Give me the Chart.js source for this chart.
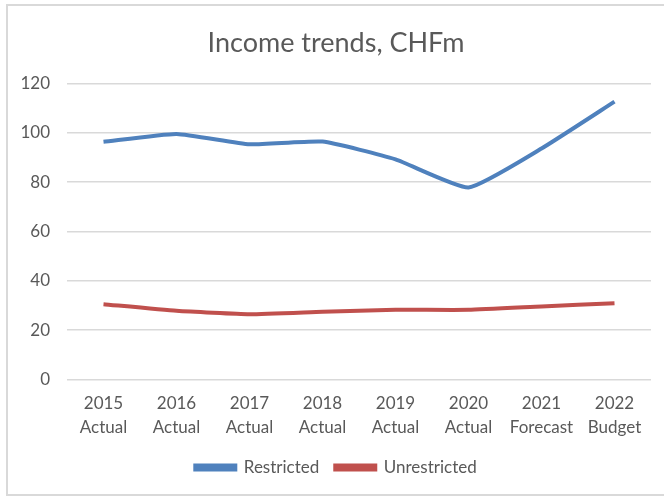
<!DOCTYPE html>
<html lang="en">
<head>
  <meta charset="UTF-8">
  <title>Income trends</title>
  <script src="https://cdn.jsdelivr.net/npm/chart.js@4"></script>
  <style>
    body { margin: 0; background: #fff; overflow: hidden; }
    #box { position: absolute; left: 6px; top: 4px; width: 670px; height: 488px; border: 2px solid #d9d9d9; }
  </style>
</head>
<body>
  <div id="box"><canvas id="chart"></canvas></div>
  <script>
const years = ['2015', '2016', '2017', '2018', '2019', '2020', '2021', '2022'];
const kinds = ['Actual', 'Actual', 'Actual', 'Actual', 'Actual', 'Actual', 'Forecast', 'Budget'];
const restricted = [96.3, 99.5, 95.3, 96.4, 89.2, 77.8, 93.6, 112.6];
const unrestricted = [30.5, 27.8, 26.4, 27.4, 28.2, 28.2, 29.6, 30.9];

const labels = years.map((y, i) => [y, kinds[i]]);
const grey = '#595959';
Chart.defaults.font.family = 'Lato, "Open Sans", sans-serif';

const ctx = document.getElementById('chart').getContext('2d');
new Chart(ctx, {
  type: 'line',
  data: {
    labels: labels,
    datasets: [{
      label: 'Restricted',
      data: restricted,
      borderColor: '#4f81bd',
      backgroundColor: '#4f81bd',
      borderWidth: 4,
      pointRadius: 0,
      tension: 0.15,
      fill: false
    }, {
      label: 'Unrestricted',
      data: unrestricted,
      borderColor: '#c0504d',
      backgroundColor: '#c0504d',
      borderWidth: 4,
      pointRadius: 0,
      tension: 0.15,
      fill: false
    }]
  },
  options: {
    responsive: true,
    maintainAspectRatio: false,
    animation: false,
    layout: { padding: { left: 13, right: 27, top: 8, bottom: 8 } },
    plugins: {
      title: {
        display: true,
        text: 'Income trends, CHFm',
        color: grey,
        font: { size: 27, weight: 'normal' },
        padding: { top: 13, bottom: 24 }
      },
      legend: {
        position: 'bottom',
        labels: {
          color: grey,
          font: { size: 17 },
          boxWidth: 40,
          boxHeight: 4,
          padding: 16
        }
      },
      tooltip: { enabled: false }
    },
    scales: {
      x: {
        offset: true,
        grid: { display: false },
        border: { display: false },
        ticks: { color: grey, font: { size: 17, lineHeight: 1.4 }, maxRotation: 0, padding: 4 }
      },
      y: {
        min: 0,
        max: 120,
        afterFit: axis => { axis.width = 46; },
        ticks: { stepSize: 20, color: grey, font: { size: 17 }, padding: 17 },
        grid: { color: '#d9d9d9', lineWidth: 1.5, drawTicks: false },
        border: { display: false }
      }
    }
  }
});
  </script>
</body>
</html>
